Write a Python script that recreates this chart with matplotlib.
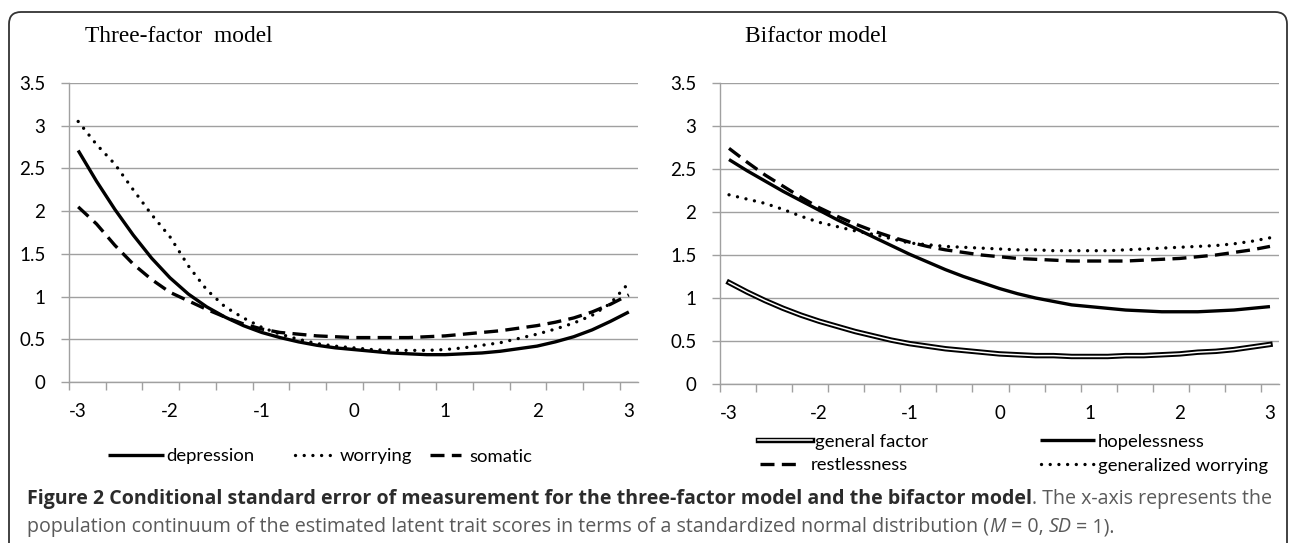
import matplotlib
matplotlib.use("Agg")
import matplotlib.pyplot as plt
from matplotlib.patches import FancyBboxPatch
from matplotlib.transforms import IdentityTransform
from matplotlib.lines import Line2D
import matplotlib.patheffects as pe
import numpy as np

# ---------------- data ----------------
theta = [-3.0, -2.8, -2.6, -2.4, -2.2, -2.0, -1.8, -1.6, -1.4, -1.2, -1.0,
         -0.8, -0.6, -0.4, -0.2, 0.0, 0.2, 0.4, 0.6, 0.8, 1.0,
         1.2, 1.4, 1.6, 1.8, 2.0, 2.2, 2.4, 2.6, 2.8, 3.0]
tick_labels = ["-3", "-2", "-1", "0", "1", "2", "3"]

depression = [2.71, 2.35, 2.02, 1.72, 1.45, 1.22, 1.03, 0.88, 0.76, 0.66, 0.58,
              0.52, 0.47, 0.43, 0.40, 0.38, 0.36, 0.34, 0.33, 0.32, 0.32,
              0.33, 0.34, 0.36, 0.39, 0.42, 0.47, 0.53, 0.61, 0.71, 0.82]
worrying = [3.05, 2.78, 2.55, 2.25, 1.96, 1.70, 1.36, 1.08, 0.88, 0.75, 0.64,
            0.56, 0.50, 0.45, 0.42, 0.40, 0.38, 0.37, 0.37, 0.37, 0.38,
            0.40, 0.43, 0.46, 0.51, 0.56, 0.62, 0.69, 0.78, 0.92, 1.16]
somatic = [2.05, 1.85, 1.60, 1.38, 1.20, 1.05, 0.95, 0.85, 0.76, 0.68, 0.62,
           0.58, 0.56, 0.54, 0.53, 0.52, 0.52, 0.52, 0.52, 0.53, 0.54,
           0.56, 0.58, 0.60, 0.63, 0.66, 0.70, 0.75, 0.82, 0.91, 1.02]

general_factor = [1.18, 1.07, 0.97, 0.88, 0.80, 0.73, 0.67, 0.61, 0.56, 0.51, 0.47,
                  0.44, 0.41, 0.39, 0.37, 0.35, 0.34, 0.33, 0.33, 0.32, 0.32,
                  0.32, 0.33, 0.33, 0.34, 0.35, 0.37, 0.38, 0.40, 0.43, 0.46]
hopelessness = [2.61, 2.48, 2.36, 2.24, 2.13, 2.02, 1.91, 1.81, 1.71, 1.61, 1.51,
                1.42, 1.33, 1.25, 1.18, 1.11, 1.05, 1.00, 0.96, 0.92, 0.90,
                0.88, 0.86, 0.85, 0.84, 0.84, 0.84, 0.85, 0.86, 0.88, 0.90]
restlessness = [2.74, 2.58, 2.43, 2.30, 2.17, 2.05, 1.95, 1.86, 1.78, 1.71, 1.65,
                1.60, 1.56, 1.53, 1.50, 1.48, 1.46, 1.45, 1.44, 1.43, 1.43,
                1.43, 1.43, 1.44, 1.45, 1.46, 1.48, 1.50, 1.53, 1.56, 1.60]
generalized_worrying = [2.20, 2.15, 2.10, 2.03, 1.95, 1.88, 1.83, 1.78, 1.74, 1.69, 1.64,
                        1.62, 1.60, 1.59, 1.58, 1.57, 1.56, 1.56, 1.55, 1.55, 1.55,
                        1.55, 1.56, 1.57, 1.58, 1.59, 1.60, 1.61, 1.63, 1.66, 1.70]

# ---------------- figure ----------------
W, H = 1290, 543
DPI = 100
fig = plt.figure(figsize=(W / DPI, H / DPI), dpi=DPI)
fig.patch.set_facecolor("white")

SANS = ["Lato", "DejaVu Sans"]
SERIF = ["Liberation Serif", "DejaVu Serif"]
GRID = "#a0a0a0"

# rounded frame
frame = FancyBboxPatch((9, -30), 1278, H - 12 + 30,
                       boxstyle="round,pad=0,rounding_size=12",
                       transform=IdentityTransform(), facecolor="none",
                       edgecolor="#333333", linewidth=1.3)
fig.add_artist(frame)


def px_axes(x0, y0, x1, y1):
    return fig.add_axes([x0 / W, 1 - y1 / H, (x1 - x0) / W, (y1 - y0) / H])


LW = 2.4
solid = dict(color="black", lw=LW, linestyle="-", solid_capstyle="butt")
dotted = dict(color="black", lw=LW, linestyle=(0, (0.01, 2.6)), dash_capstyle="round")
dashed = dict(color="black", lw=LW, linestyle=(0, (4.2, 2.2)), dash_capstyle="butt")
double = dict(color="white", lw=1.1, linestyle="-",
              path_effects=[pe.Stroke(linewidth=3.9, foreground="black"), pe.Normal()])

TICKFS = 13.5


def style_axes(ax):
    n = len(theta)
    ax.set_xlim(-0.5, n - 0.5)
    ax.set_ylim(0, 3.5)
    ax.set_yticks(np.arange(0, 3.51, 0.5))
    ax.set_yticklabels(["0", "0.5", "1", "1.5", "2", "2.5", "3", "3.5"])
    ax.set_xticks(np.arange(-0.5, n, 2))
    ax.set_xticks(np.arange(0, n, 5), minor=True)
    ax.set_xticklabels([])
    ax.set_xticklabels(tick_labels, minor=True)
    ax.tick_params(axis="x", which="major", length=6, width=1, color=GRID, direction="out")
    ax.tick_params(axis="x", which="minor", length=0, pad=15, labelsize=TICKFS, labelcolor="black")
    ax.tick_params(axis="y", length=6, width=1, color=GRID, direction="out", pad=11,
                   labelsize=TICKFS, labelcolor="black")
    for lab in ax.get_xticklabels(minor=True) + ax.get_yticklabels():
        lab.set_fontfamily(SANS)
    ax.grid(axis="y", color=GRID, lw=1.0)
    ax.set_axisbelow(True)
    for s in ["top", "right"]:
        ax.spines[s].set_visible(False)
    for s in ["left", "bottom"]:
        ax.spines[s].set_color(GRID)
        ax.spines[s].set_linewidth(1.0)


idx = np.arange(len(theta))

# left panel
ax1 = px_axes(69, 83, 638, 382)
style_axes(ax1)
l_dep, = ax1.plot(idx, depression, label="depression", **solid)
l_wor, = ax1.plot(idx, worrying, label="worrying", **dotted)
l_som, = ax1.plot(idx, somatic, label="somatic", **dashed)
for l in (l_dep, l_wor, l_som):
    l.set_clip_on(False)

# right panel
ax2 = px_axes(720, 83, 1279, 384)
style_axes(ax2)
l_gen, = ax2.plot(idx, general_factor, label="general factor", **double)
l_hop, = ax2.plot(idx, hopelessness, label="hopelessness", **solid)
l_res, = ax2.plot(idx, restlessness, label="restlessness", **dashed)
l_gw, = ax2.plot(idx, generalized_worrying, label="generalized worrying", **dotted)
for l in (l_gen, l_hop, l_res, l_gw):
    l.set_clip_on(False)

# titles
fig.text(85 / W, 1 - 36 / H, "Three-factor  model", fontfamily=SERIF, fontsize=16.8,
         ha="left", va="center")
fig.text(745 / W, 1 - 36 / H, "Bifactor model", fontfamily=SERIF, fontsize=17,
         ha="left", va="center")

# legends (keys drawn in figure pixel space)
LEGFS = 13.3


def legend_entry(line, x0, x1, y, tx):
    key = Line2D([x0 / W, x1 / W], [1 - y / H, 1 - y / H])
    key.update_from(line)
    key.set_transform(fig.transFigure)
    key.set_clip_on(False)
    key.set_clip_box(None)
    fig.add_artist(key)
    fig.text(tx / W, 1 - y / H, line.get_label(), fontfamily=SANS, fontsize=LEGFS,
             ha="left", va="center_baseline", color="black")


legend_entry(l_dep, 108, 164, 455, 166)
legend_entry(l_wor, 295, 338, 455, 340)
legend_entry(l_som, 430, 461, 455, 469)

legend_entry(l_gen, 758, 812, 440, 815)
legend_entry(l_hop, 1040, 1095, 440, 1098)
legend_entry(l_res, 760, 800, 464, 811)
legend_entry(l_gw, 1041, 1095, 464, 1098)

# caption with mixed styles
fig.canvas.draw()
renderer = fig.canvas.get_renderer()
BOLD_C = "#2b2b2b"
REG_C = "#5a5a5a"
CAP = ["Open Sans", "DejaVu Sans"]


def text_width(s, **kw):
    t = fig.text(0, 0, s, **kw)
    w = t.get_window_extent(renderer).width
    t.remove()
    return w


def place_runs(runs, x0, y, fs):
    x = x0
    made = []
    for item in runs:
        if item == " ":
            x += text_width("a a", fontsize=fs, fontfamily=CAP) - text_width("aa", fontsize=fs, fontfamily=CAP)
            continue
        s, kw = item
        t = fig.text(x / W, 1 - y / H, s, fontsize=fs, fontfamily=CAP, ha="left",
                     va="center", **kw)
        made.append(t)
        x = t.get_window_extent(renderer).x1
    return x, made


line1 = [("Figure 2 Conditional standard error of measurement for the three-factor model and the bifactor model",
          dict(fontweight="bold", color=BOLD_C)),
         (". The x-axis represents the", dict(color=REG_C))]
line2 = [("population continuum of the estimated latent trait scores in terms of a standardized normal distribution (",
          dict(color=REG_C)),
         ("M", dict(color=REG_C, style="italic")), " ",
         ("= 0,", dict(color=REG_C)), " ",
         ("SD", dict(color=REG_C, style="italic")), " ",
         ("= 1).", dict(color=REG_C))]

fs = 10.5
xend, made = place_runs(line1, 27, 499, fs)
for t in made:
    t.remove()
fs = fs * (1275 - 27) / (xend - 27)
place_runs(line1, 27, 499, fs)
place_runs(line2, 27, 527, fs)

fig.savefig("out.png", dpi=DPI, facecolor="white")
